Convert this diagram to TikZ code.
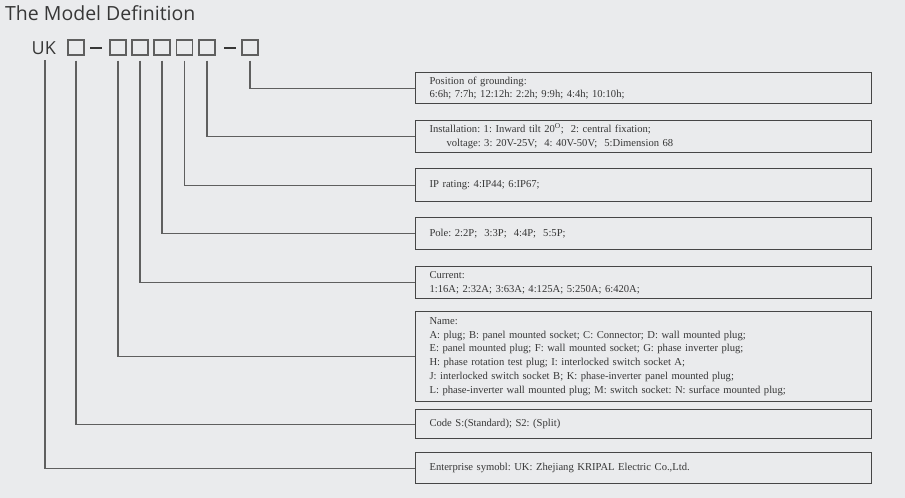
\documentclass[tikz,border=0pt]{standalone}
\usepackage{fontspec}
\setmainfont{Liberation Serif}
\newfontfamily\titlefont{Open Sans}
\definecolor{bgc}{RGB}{234,235,237}
\definecolor{linec}{RGB}{95,95,95}
\definecolor{boxc}{RGB}{70,70,70}
\definecolor{txtc}{RGB}{55,55,55}
\begin{document}
\frenchspacing
\begin{tikzpicture}[x=1pt,y=-1pt,
  infobox/.style={draw=boxc, line width=1.1pt, anchor=north west, minimum width=456pt,
    text width=428pt, inner xsep=14pt, inner ysep=0pt, align=left, text=txtc,
    font=\fontsize{10.6}{13.9}\selectfont},
  sq/.style={draw=linec, line width=1.2pt, minimum width=16pt, minimum height=15pt, inner sep=0pt},
  conn/.style={draw=linec, line width=1.1pt},
  dashline/.style={draw=txtc, line width=1.8pt}]
\fill[bgc] (0,0) rectangle (905,498);
\useasboundingbox (0,0) rectangle (905,498);
\node[anchor=base west, inner sep=0pt, text=txtc, font=\titlefont\fontsize{19.5}{21}\selectfont] (title) at (5,20.7) {The Model Definition};
\node[anchor=base west, inner sep=0pt, text=txtc, font=\titlefont\fontsize{18}{20}\selectfont] (uk) at (31.5,54) {UK};
\node[sq] (s1) at (76,47.5) {};
\draw[dashline] (90,47.7) -- (102,47.7);
\node[sq] (s2) at (118,47.5) {};
\node[sq] (s3) at (140,47.5) {};
\node[sq] (s4) at (162,47.5) {};
\node[sq] (s5) at (184.5,47.5) {};
\node[sq] (s6) at (207,47.5) {};
\draw[dashline] (224,47.7) -- (236,47.7);
\node[sq] (s7) at (250,47.5) {};
\coordinate (ukb) at (45,60);
% boxes
\node[infobox, minimum height=31pt] (g) at (415,72) {Position of grounding:\\6:6h; 7:7h; 12:12h: 2:2h; 9:9h; 4:4h; 10:10h;};
\node[infobox, minimum height=32pt] (inst) at (415,120) {Installation: 1: Inward tilt 20\textsuperscript{O};\ \ 2: central fixation;\\\hspace*{17pt}voltage: 3: 20V-25V;\ \ 4: 40V-50V;\ \ 5:Dimension 68};
\node[infobox, minimum height=33pt] (ip) at (415,168) {IP rating: 4:IP44; 6:IP67;};
\node[infobox, minimum height=32pt] (pole) at (415,217) {Pole: 2:2P;\ \ 3:3P;\ \ 4:4P;\ \ 5:5P;};
\node[infobox, minimum height=32pt] (cur) at (415,266) {Current:\\1:16A; 2:32A; 3:63A; 4:125A; 5:250A; 6:420A;};
\node[infobox, minimum height=90pt] (name) at (415,311) {Name:\\A: plug; B: panel mounted socket; C: Connector; D: wall mounted plug;\\E: panel mounted plug; F: wall mounted socket; G: phase inverter plug;\\H: phase rotation test plug; I: interlocked switch socket A;\\J: interlocked switch socket B; K: phase-inverter panel mounted plug;\\L: phase-inverter wall mounted plug; M: switch socket: N: surface mounted plug;};
\node[infobox, minimum height=29pt] (code) at (415,409) {Code S:(Standard); S2: (Split)};
\node[infobox, minimum height=31pt] (ent) at (415,452) {Enterprise symobl: UK: Zhejiang KRIPAL Electric Co.,Ltd.};
% connectors
\draw[conn] ([yshift=-5pt]s7.south) |- (g.west);
\draw[conn] ([yshift=-5pt]s6.south) |- (inst.west);
\draw[conn] ([yshift=-5pt]s5.south) |- (ip.west);
\draw[conn] ([yshift=-5pt]s4.south) |- (pole.west);
\draw[conn] ([yshift=-5pt]s3.south) |- (cur.west);
\draw[conn] ([yshift=-5pt]s2.south) |- (name.west);
\draw[conn] ([yshift=-5pt]s1.south) |- (code.west);
\draw[conn] (ukb) |- (ent.west);
\end{tikzpicture}
\end{document}
